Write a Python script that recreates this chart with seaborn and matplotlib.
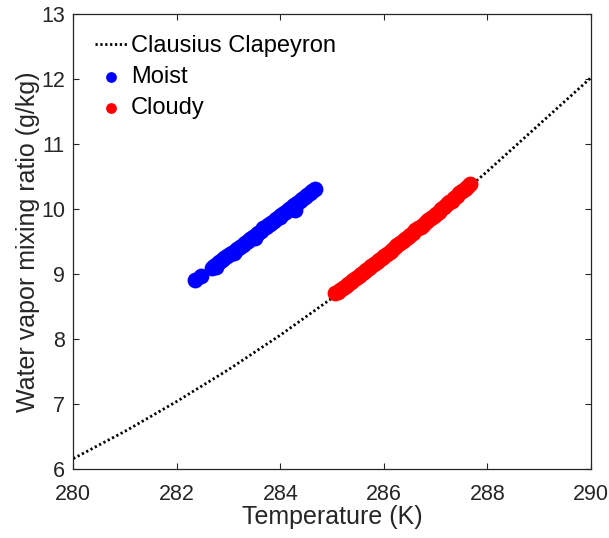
import numpy as np
import pandas as pd
import matplotlib
matplotlib.use('Agg')
import matplotlib.pyplot as plt
import seaborn as sns

# Clausius Clapeyron curve at each kelvin
cc_temp = [280, 281, 282, 283, 284, 285, 286, 287, 288, 289, 290]
cc_ratio = [6.16, 6.58, 7.04, 7.53, 8.06, 8.63, 9.24, 9.89, 10.58, 11.30, 12.02]

# Moist points (blue streak)
moist_temp = [282.35, 282.47,
              282.67, 282.72, 282.77, 282.82, 282.87, 282.92, 282.97, 283.02,
              283.07, 283.12, 283.17, 283.22, 283.27, 283.32, 283.37, 283.42,
              283.47, 283.52, 283.57, 283.62, 283.67, 283.72, 283.77, 283.82,
              283.87, 283.92, 283.97, 284.02, 284.07, 284.12, 284.17, 284.22,
              284.27, 284.32, 284.37, 284.42, 284.47, 284.52, 284.57, 284.62,
              284.67,
              282.76, 283.10, 283.50, 283.80, 284.00, 284.28]
moist_ratio = [8.91, 8.97,
               9.09, 9.12, 9.15, 9.18, 9.21, 9.24, 9.27, 9.30,
               9.33, 9.36, 9.39, 9.42, 9.45, 9.48, 9.51, 9.54,
               9.57, 9.60, 9.63, 9.66, 9.70, 9.73, 9.76, 9.79,
               9.82, 9.85, 9.88, 9.91, 9.94, 9.97, 10.00, 10.03,
               10.06, 10.09, 10.12, 10.15, 10.18, 10.21, 10.24, 10.27,
               10.30,
               9.11, 9.33, 9.56, 9.77, 9.88, 9.99]

# Cloudy points (red streak)
cloudy_temp = [285.06, 285.11, 285.16, 285.21, 285.26, 285.31, 285.36, 285.41,
               285.46, 285.51, 285.56, 285.61, 285.66, 285.71, 285.76, 285.81,
               285.86, 285.91, 285.96, 286.01, 286.06, 286.11, 286.16, 286.21,
               286.26, 286.31, 286.36, 286.41, 286.46, 286.51, 286.56, 286.61,
               286.66, 286.71, 286.76, 286.81, 286.86, 286.91, 286.96, 287.01,
               287.06, 287.11, 287.16, 287.21, 287.26, 287.31, 287.36, 287.41,
               287.46, 287.51, 287.56, 287.61, 287.66]
cloudy_ratio = [8.70, 8.73, 8.76, 8.79, 8.82, 8.85, 8.88, 8.91,
                8.94, 8.97, 9.00, 9.03, 9.06, 9.09, 9.12, 9.15,
                9.19, 9.22, 9.25, 9.28, 9.31, 9.34, 9.37, 9.41,
                9.44, 9.47, 9.50, 9.54, 9.57, 9.60, 9.63, 9.67,
                9.70, 9.73, 9.76, 9.80, 9.83, 9.86, 9.89, 9.93,
                9.96, 10.00, 10.03, 10.07, 10.10, 10.13, 10.17, 10.20,
                10.24, 10.27, 10.31, 10.34, 10.38]

df_cc = pd.DataFrame({'T': cc_temp, 'q': cc_ratio})
df_moist = pd.DataFrame({'T': moist_temp, 'q': moist_ratio})
df_cloudy = pd.DataFrame({'T': cloudy_temp, 'q': cloudy_ratio})

sns.set_style('white')
plt.rcParams['font.family'] = ['Liberation Sans', 'DejaVu Sans']

txt = '#262626'
fig = plt.figure(figsize=(6.09, 5.38), dpi=100)
ax = fig.add_axes([0.1204, 0.1283, 0.8500, 0.8457])

sns.lineplot(data=df_cc, x='T', y='q', ax=ax, color='black', linewidth=2.0,
             linestyle=(0, (0.8, 0.95)), label='Clausius Clapeyron', zorder=2)
sns.scatterplot(data=df_moist, x='T', y='q', ax=ax, color='#0000ff', s=130,
                linewidth=0, label='Moist', zorder=3)
sns.scatterplot(data=df_cloudy, x='T', y='q', ax=ax, color='#ff0000', s=130,
                linewidth=0, label='Cloudy', zorder=3)

ax.set_xlim(280, 290)
ax.set_ylim(6, 13)
ax.set_xticks([280, 282, 284, 286, 288, 290])
ax.set_yticks([6, 7, 8, 9, 10, 11, 12, 13])
ax.tick_params(direction='in', length=4, width=0.8, colors=txt,
               labelsize=15.5, top=True, right=True, bottom=True, left=True,
               labelcolor=txt)
ax.tick_params(axis='x', pad=11)
ax.tick_params(axis='y', pad=6)
for sp in ax.spines.values():
    sp.set_color(txt)
    sp.set_linewidth(0.9)

ax.set_xlabel('Temperature (K)', fontsize=18, color=txt, labelpad=0)
ax.set_ylabel('Water vapor mixing ratio (g/kg)', fontsize=18, color=txt, labelpad=1)

leg = ax.legend(loc='upper left', frameon=False, fontsize=17, handlelength=1.4,
                handletextpad=0.15, labelspacing=0.37, borderpad=0.4,
                borderaxespad=0.5, markerscale=0.68)
for t in leg.get_texts():
    t.set_color('black')

fig.savefig('out.png', dpi=100)
